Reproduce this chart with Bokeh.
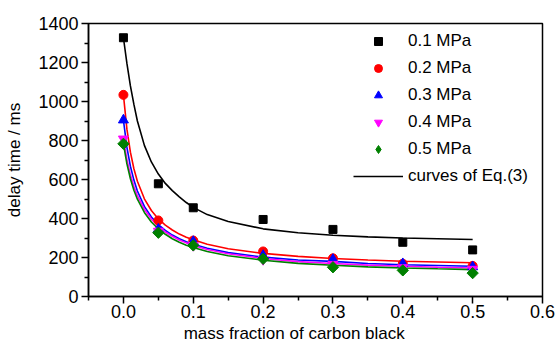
from bokeh.plotting import figure
from bokeh.models import FixedTicker, PrintfTickFormatter, Legend, LegendItem, Range1d
from bokeh.embed import file_html
from bokeh.resources import INLINE
import math

# ---- data ----
mass_fraction = [0.0, 0.05, 0.1, 0.2, 0.3, 0.4, 0.5]
delay_01 = [1327, 578, 455, 395, 344, 278, 239]
delay_02 = [1034, 390, 287, 231, 196, 168, 157]
delay_03 = [905, 345, 282, 210, 190, 168, 152]
delay_04 = [808, 335, 262, 190, 165, 148, 140]
delay_05 = [783, 327, 262, 193, 150, 134, 120]

curve_x = [0, 0.005, 0.01, 0.015, 0.02, 0.03, 0.04, 0.05, 0.06, 0.07, 0.08, 0.09,
           0.1, 0.12, 0.15, 0.2, 0.25, 0.3, 0.35, 0.4, 0.45, 0.5]
curve_01 = [1327, 1195, 1080, 985, 900, 775, 690, 628, 580, 543, 511, 482,
            457, 420, 385, 347, 327, 314, 306, 300, 296, 292]
curve_02 = [1034, 858, 740, 655, 591, 501, 441, 398, 366, 341, 320, 304,
            291, 268, 245, 221, 206, 195, 187, 181, 177, 173]
curve_03 = [905, 765, 668, 597, 541, 462, 408, 369, 339, 315, 296, 281,
            268, 247, 225, 202, 187, 180, 169, 163, 159, 155]
curve_04 = [808, 702, 624, 564, 517, 447, 397, 360, 331, 309, 290, 275,
            262, 241, 219, 195, 179, 169, 161, 155, 150, 146]
curve_05 = [783, 680, 604, 545, 499, 431, 382, 346, 319, 296, 278, 263,
            251, 231, 209, 186, 170, 160, 152, 146.5, 142, 138]

series_labels = ["0.1 MPa", "0.2 MPa", "0.3 MPa", "0.4 MPa", "0.5 MPa"]
curve_label = "curves of Eq.(3)"
x_title = "mass fraction of carbon black"
y_title = "delay time / ms"
x_ticks = [0.0, 0.1, 0.2, 0.3, 0.4, 0.5, 0.6]
x_minor = [-0.05, 0.05, 0.15, 0.25, 0.35, 0.45, 0.55]
y_ticks = [0, 200, 400, 600, 800, 1000, 1200, 1400]
y_minor = [100, 300, 500, 700, 900, 1100, 1300]

# ---- styling ----
colors = ["#000000", "#ff0000", "#0000ff", "#ff00ff", "#008000"]
markers = ["square", "circle", "triangle", "inverted_triangle", "square"]
sizes = [8, 9, 10, 10, 8]
angles = [0, 0, 0, 0, math.pi / 4]
FONT = "Liberation Sans"

p = figure(width=557, height=347, output_backend="svg", toolbar_location=None,
           x_range=Range1d(-0.05, 0.6), y_range=Range1d(0, 1400),
           min_border_left=88, min_border_right=15, min_border_top=23, min_border_bottom=51)
p.background_fill_color = "white"
p.border_fill_color = "white"
p.xgrid.visible = False
p.ygrid.visible = False
p.outline_line_color = "black"
p.outline_line_width = 1.5

for ax in (p.xaxis[0], p.yaxis[0]):
    ax.axis_line_width = 1.5
    ax.major_tick_line_width = 1.5
    ax.minor_tick_line_width = 1.5
    ax.major_tick_out = 7
    ax.major_tick_in = 0
    ax.minor_tick_out = 4
    ax.minor_tick_in = 0
    ax.major_label_text_font = FONT
    ax.major_label_text_font_size = "18px"
    ax.major_label_text_color = "black"
    ax.axis_label_text_font = FONT
    ax.axis_label_text_font_size = "17px"
    ax.axis_label_text_font_style = "normal"
    ax.axis_label_text_color = "black"

p.xaxis.ticker = FixedTicker(ticks=x_ticks, minor_ticks=x_minor)
p.yaxis.ticker = FixedTicker(ticks=y_ticks, minor_ticks=y_minor)
p.xaxis.formatter = PrintfTickFormatter(format="%.1f")
p.yaxis.formatter = PrintfTickFormatter(format="%d")
# trailing no-break spaces shift the centred title left, as in the reference
p.xaxis.axis_label = x_title + "\u00a0" * 9
p.yaxis.axis_label = y_title
p.xaxis.major_label_standoff = 1
p.yaxis.major_label_standoff = 3
p.xaxis.axis_label_standoff = 3
p.yaxis.axis_label_standoff = 11

curves = [curve_01, curve_02, curve_03, curve_04, curve_05]
points = [delay_01, delay_02, delay_03, delay_04, delay_05]

line_renderers = []
for c, col in zip(curves, colors):
    line_renderers.append(p.line(curve_x, c, line_color=col, line_width=1.6))

# diamond marker for the legend swatch (the legend ignores marker angle);
# drawn underneath the rotated squares of the same series
diamond_swatch = p.scatter(mass_fraction, delay_05, marker="diamond", size=10,
                           fill_color=colors[4], line_color=colors[4])

scatter_renderers = []
for ys, col, m, s, a in zip(points, colors, markers, sizes, angles):
    scatter_renderers.append(p.scatter(mass_fraction, ys, marker=m, size=s, angle=a,
                                       fill_color=col, line_color=col))

legend_renderers = scatter_renderers[:4] + [diamond_swatch]

items = [LegendItem(label=lab, renderers=[r]) for lab, r in zip(series_labels, legend_renderers)]
items.append(LegendItem(label=curve_label, renderers=[line_renderers[0]]))
legend = Legend(items=items, location=(265, 110), orientation="vertical",
                glyph_width=50, glyph_height=20, label_height=20, spacing=7,
                label_standoff=5, padding=0, margin=0,
                border_line_color=None, background_fill_alpha=0,
                label_text_font=FONT, label_text_font_size="17px",
                label_text_color="black")
p.add_layout(legend, "center")

open("out.html", "w").write(file_html(p, INLINE))
